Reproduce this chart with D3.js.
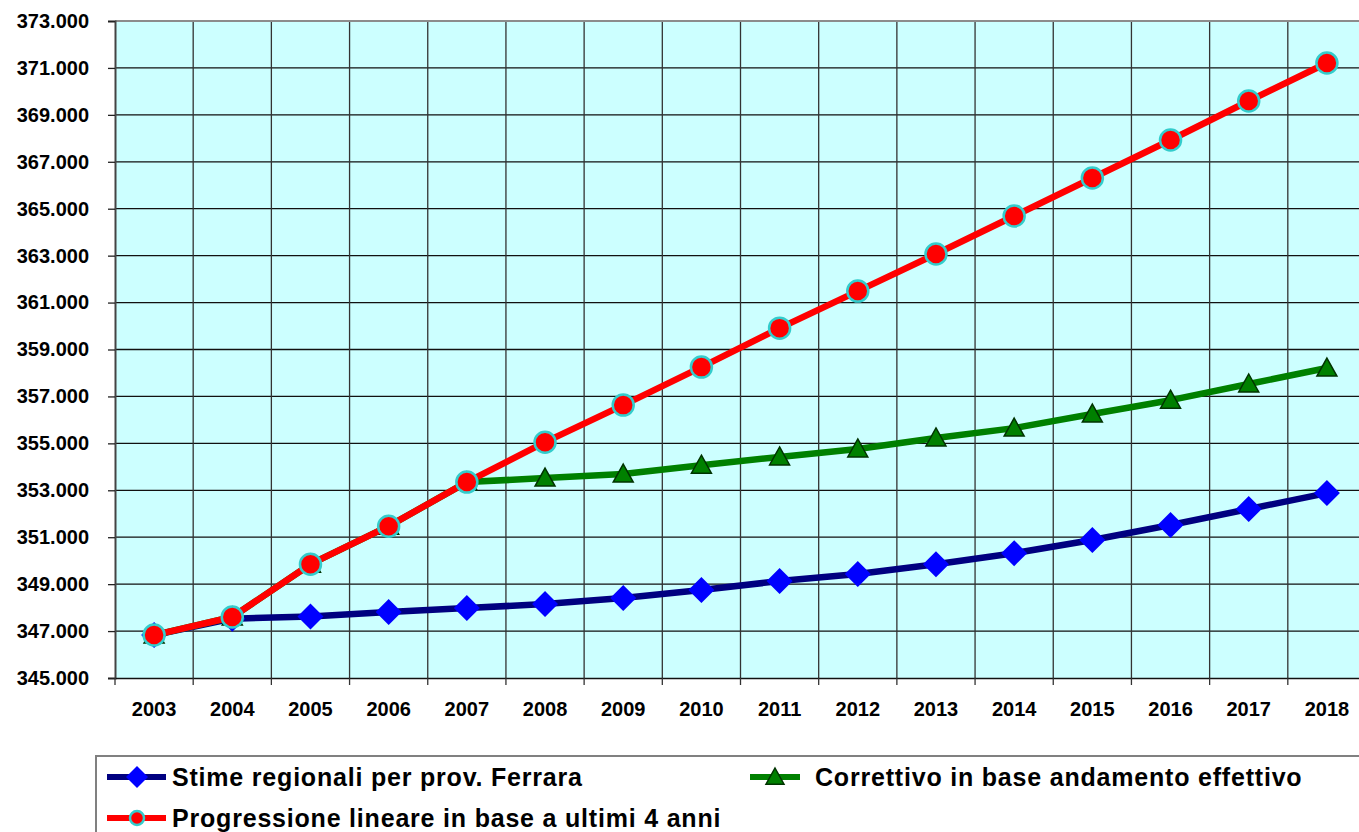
<!DOCTYPE html>
<html>
<head>
<meta charset="utf-8">
<script src="https://cdnjs.cloudflare.com/ajax/libs/d3/7.8.5/d3.min.js"></script>
<style>
  body { margin: 0; background: #fff; }
  text { font-family: "Liberation Sans", Arial, sans-serif; font-weight: bold; fill: #000; }
</style>
</head>
<body>
<script>
const years = ["2003","2004","2005","2006","2007","2008","2009","2010","2011","2012","2013","2014","2015","2016","2017","2018"];
const stime = [346830, 347530, 347620, 347810, 347980, 348150, 348410, 348750, 349130, 349430, 349850, 350320, 350880, 351520, 352200, 352880];
const correttivo = [346830, 347600, 349850, 351470, 353350, 353520, 353690, 354070, 354420, 354760, 355230, 355650, 356250, 356840, 357530, 358210];
const progressione = [346830, 347600, 349850, 351470, 353350, 355050, 356630, 358250, 359910, 361490, 363070, 364690, 366310, 367930, 369590, 371210];
const yTicks = [345000, 347000, 349000, 351000, 353000, 355000, 357000, 359000, 361000, 363000, 365000, 367000, 369000, 371000, 373000];
const legendLabels = ["Stime regionali per prov. Ferrara", "Correttivo in base andamento effettivo", "Progressione lineare in base a ultimi 4 anni"];

const width = 1359, height = 832;
const plotLeft = 115, plotRight = 1366, plotTop = 21, plotBottom = 678;

const svg = d3.select("body").append("svg")
  .attr("width", width).attr("height", height);

const x = d3.scaleBand().domain(years).range([plotLeft, plotRight]).padding(0);
const y = d3.scaleLinear().domain([345000, 373000]).range([plotBottom, plotTop]);
const fmt = d3.formatLocale({ decimal: ",", thousands: ".", grouping: [3], currency: ["", "€"] }).format(",d");

// plot background
svg.append("rect")
  .attr("x", plotLeft).attr("y", plotTop)
  .attr("width", plotRight - plotLeft).attr("height", plotBottom - plotTop)
  .attr("fill", "#ccffff");

// horizontal grid
svg.append("g").selectAll("line")
  .data(yTicks.slice(1, -1))
  .join("line")
  .attr("x1", plotLeft).attr("x2", plotRight)
  .attr("y1", d => y(d)).attr("y2", d => y(d))
  .attr("stroke", "#111").attr("stroke-width", 1.3);

// vertical grid at category boundaries
svg.append("g").selectAll("line")
  .data(years.slice(1))
  .join("line")
  .attr("x1", d => x(d)).attr("x2", d => x(d))
  .attr("y1", plotTop).attr("y2", plotBottom)
  .attr("stroke", "#333").attr("stroke-width", 1.3);

// top border
svg.append("line")
  .attr("x1", plotLeft).attr("x2", plotRight).attr("y1", plotTop).attr("y2", plotTop)
  .attr("stroke", "#8c8c8c").attr("stroke-width", 2);

// y axis
const yAxis = svg.append("g")
  .attr("transform", `translate(${plotLeft},0)`)
  .call(d3.axisLeft(y).tickValues(yTicks).tickFormat(fmt).tickSize(7).tickPadding(19));
yAxis.select(".domain").attr("stroke", "#444").attr("stroke-width", 2);
yAxis.selectAll(".tick line").attr("stroke", "#222").attr("stroke-width", 1.3);
yAxis.selectAll("text")
  .style("font-size", "20px").style("font-family", "Liberation Sans, Arial, sans-serif")
  .style("font-weight", "bold").attr("fill", "#000");

// x axis
const xAxis = svg.append("g")
  .attr("transform", `translate(0,${plotBottom})`)
  .call(d3.axisBottom(x).tickSize(0).tickPadding(24));
xAxis.select(".domain").attr("stroke", "#111").attr("stroke-width", 1.5);
xAxis.selectAll("text")
  .style("font-size", "20px").style("font-family", "Liberation Sans, Arial, sans-serif")
  .style("font-weight", "bold").attr("fill", "#000");
svg.append("g").selectAll("line")
  .data(years)
  .join("line")
  .attr("x1", d => x(d)).attr("x2", d => x(d))
  .attr("y1", plotBottom).attr("y2", plotBottom + 7)
  .attr("stroke", "#333").attr("stroke-width", 1.3);

const cx = i => x(years[i]) + x.bandwidth() / 2;
const line = d3.line().x((d, i) => cx(i)).y(d => y(d));

function diamond(g, s) {
  g.append("path").attr("d", `M0,${-s}L${s},0L0,${s}L${-s},0Z`)
    .attr("fill", "#0000ff");
}
function triangle(g, s) {
  g.append("path").attr("d", `M0,${-s}L${s},${s * 0.8}L${-s},${s * 0.8}Z`)
    .attr("fill", "#008000").attr("stroke", "#003300").attr("stroke-width", 1.5);
}
function circle(g, r) {
  g.append("circle").attr("r", r)
    .attr("fill", "#ff0000").attr("stroke", "#33cccc").attr("stroke-width", 2.5);
}

const series = [
  { values: stime, color: "#000080", marker: g => diamond(g, 13) },
  { values: correttivo, color: "#008000", marker: g => triangle(g, 10) },
  { values: progressione, color: "#ff0000", marker: g => circle(g, 10.5) }
];

series.forEach(s => {
  svg.append("path")
    .datum(s.values)
    .attr("d", line)
    .attr("fill", "none")
    .attr("stroke", s.color)
    .attr("stroke-width", 6.5)
    .attr("stroke-linejoin", "round");
  svg.append("g").selectAll("g")
    .data(s.values)
    .join("g")
    .attr("transform", (d, i) => `translate(${cx(i)},${y(d)})`)
    .each(function () { s.marker(d3.select(this)); });
});

// legend
svg.append("rect")
  .attr("x", 96).attr("y", 756)
  .attr("width", 1300).attr("height", 120)
  .attr("fill", "#fff").attr("stroke", "#808080").attr("stroke-width", 2);

const legendItems = [
  { label: legendLabels[0], x: 107, y: 777, len: 59, mid: 30, tx: 65, color: "#000080", marker: g => diamond(g, 11) },
  { label: legendLabels[1], x: 750, y: 777, len: 50, mid: 25, tx: 65, color: "#008000", marker: g => triangle(g, 9) },
  { label: legendLabels[2], x: 107, y: 818, len: 59, mid: 30, tx: 65, color: "#ff0000", marker: g => circle(g, 7) }
];
legendItems.forEach(it => {
  const g = svg.append("g").attr("transform", `translate(${it.x},${it.y})`);
  g.append("line").attr("x1", 0).attr("x2", it.len)
    .attr("stroke", it.color).attr("stroke-width", 6);
  it.marker(g.append("g").attr("transform", `translate(${it.mid},0)`));
  g.append("text")
    .attr("x", it.tx).attr("y", 9)
    .style("font-size", "25px").style("letter-spacing", "0.8px")
    .text(it.label);
});
</script>
</body>
</html>
